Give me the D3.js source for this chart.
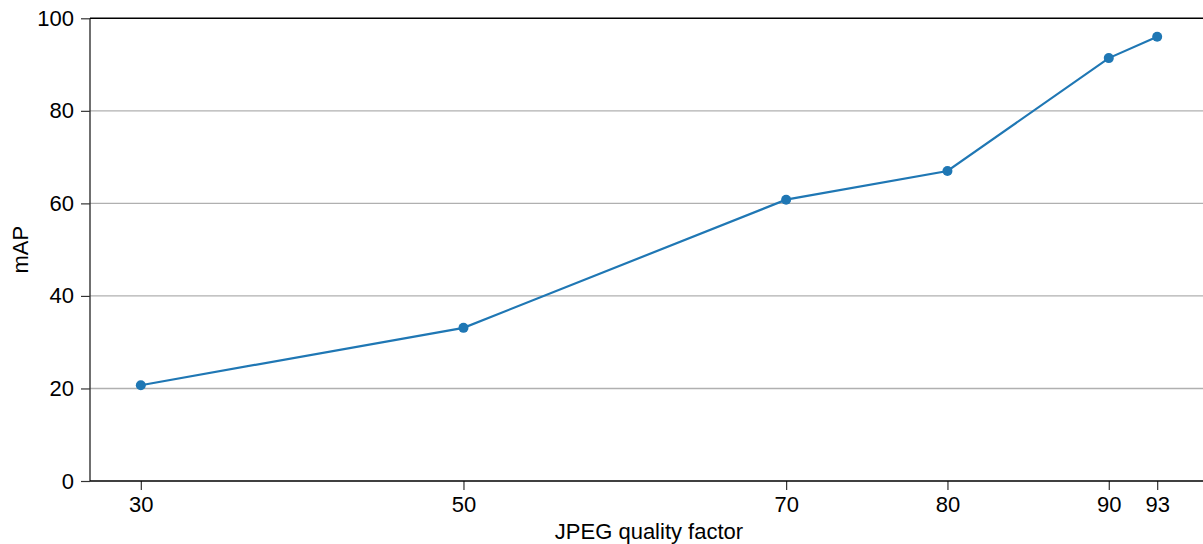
<!DOCTYPE html>
<html><head><meta charset="utf-8">
<script src="https://cdn.jsdelivr.net/npm/d3@7"></script>
<style>body{margin:0;background:#fff}svg{display:block}text{font-family:"Liberation Sans",Arial,sans-serif}</style>
</head><body>
<svg id="c" width="1203" height="544"></svg>
<script>
const quality = [30, 50, 70, 80, 90, 93];
const mAP = [20.7, 33.1, 60.8, 67.0, 91.4, 96.0];
const xTicks = [30, 50, 70, 80, 90, 93];
const yTicks = [0, 20, 40, 60, 80, 100];

const svg = d3.select("#c");
const m = {l: 90, t: 18.3, b: 481};
const x = d3.scaleLinear().domain([26.85, 96.15]).range([m.l, 1208]);
const y = d3.scaleLinear().domain([0, 100]).range([m.b, m.t]);

// grid
svg.append("g").selectAll("line").data(yTicks.filter(d => d > 0 && d < 100)).join("line")
  .attr("x1", m.l).attr("x2", 1208).attr("y1", d => y(d)).attr("y2", d => y(d))
  .attr("stroke", "#b0b0b0").attr("stroke-width", 1.4);

const fs = "22px";
const xa = svg.append("g").attr("transform", `translate(0,${m.b})`)
  .call(d3.axisBottom(x).tickValues(xTicks).tickSize(9).tickPadding(6).tickFormat(d3.format("d")));
const ya = svg.append("g").attr("transform", `translate(${m.l},0)`)
  .call(d3.axisLeft(y).tickValues(yTicks).tickSize(9).tickPadding(7).tickFormat(d3.format("d")));
[xa, ya].forEach(a => {
  a.select(".domain").remove();
  a.selectAll(".tick line").attr("stroke", "#333").attr("stroke-width", 1.2);
  a.selectAll(".tick text").attr("fill", "#000").style("font-size", fs).style("font-family", '"Liberation Sans",Arial,sans-serif');
});

// spines
svg.append("line").attr("x1", m.l).attr("x2", m.l).attr("y1", m.t).attr("y2", m.b).attr("stroke", "#333").attr("stroke-width", 1.4);
svg.append("line").attr("x1", m.l).attr("x2", 1208).attr("y1", m.b).attr("y2", m.b).attr("stroke", "#000").attr("stroke-width", 1.4);
svg.append("line").attr("x1", m.l).attr("x2", 1208).attr("y1", m.t).attr("y2", m.t).attr("stroke", "#000").attr("stroke-width", 1.4);

const pts = quality.map((q, i) => [q, mAP[i]]);
svg.append("path").datum(pts)
  .attr("d", d3.line().x(d => x(d[0])).y(d => y(d[1])))
  .attr("fill", "none").attr("stroke", "#1f77b4").attr("stroke-width", 2.2);
svg.append("g").selectAll("circle").data(pts).join("circle")
  .attr("cx", d => x(d[0])).attr("cy", d => y(d[1])).attr("r", 5).attr("fill", "#1f77b4");

svg.append("text").attr("x", 649).attr("y", 539).attr("text-anchor", "middle")
  .style("font-size", fs).text("JPEG quality factor");
svg.append("text").attr("transform", `translate(28,${(m.t + m.b) / 2}) rotate(-90)`).attr("text-anchor", "middle")
  .style("font-size", fs).text("mAP");
</script>
</body></html>
